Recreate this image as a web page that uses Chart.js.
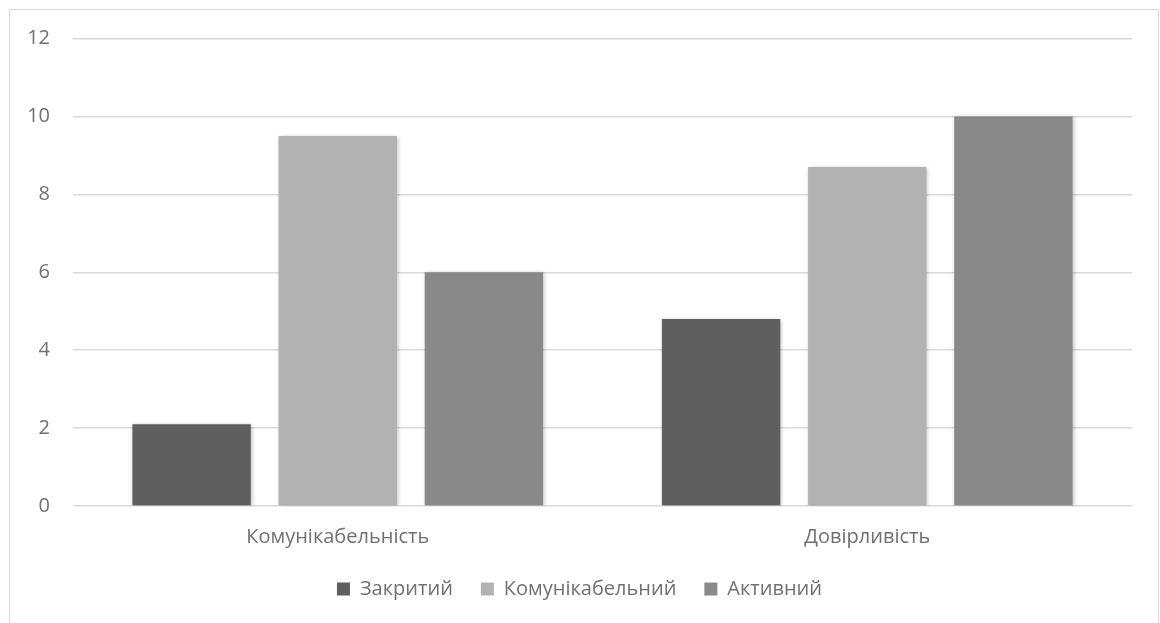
<!DOCTYPE html>
<html><head><meta charset="utf-8">
<script src="https://cdn.jsdelivr.net/npm/chart.js@4/dist/chart.umd.min.js"></script>
<style>
html,body{margin:0;padding:0;background:#fff;width:1160px;height:623px;overflow:hidden;}
#frame{position:absolute;left:9px;top:9px;width:1150px;height:640px;border:1.5px solid #d9d9d9;box-sizing:border-box;}
#wrap{position:absolute;left:0;top:0;width:1160px;height:623px;}
</style></head>
<body>
<div id="frame"></div>
<div id="wrap"><canvas id="c" width="1160" height="623"></canvas></div>
<script>
const categories = ["Комунікабельність", "Довірливість"];
const seriesNames = ["Закритий", "Комунікабельний", "Активний"];
const closedValues = [2.1, 4.8];
const communicativeValues = [9.5, 8.7];
const activeValues = [6.0, 10.0];
const yTicks = [0, 2, 4, 6, 8, 10, 12];
const colors = ["#5f5f5f", "#b2b2b2", "#898989"];

const shadowPlugin = {
  id: 'barShadow',
  beforeDatasetsDraw(chart) {
    const ctx = chart.ctx;
    ctx.save();
    ctx.shadowColor = 'rgba(0,0,0,0.25)';
    ctx.shadowBlur = 4;
    ctx.shadowOffsetX = 1;
    ctx.shadowOffsetY = 1;
  },
  afterDatasetsDraw(chart) { chart.ctx.restore(); }
};

const font = "'Open Sans', 'Noto Sans', sans-serif";
new Chart(document.getElementById('c'), {
  type: 'bar',
  data: {
    labels: categories,
    datasets: [
      { label: seriesNames[0], data: closedValues, backgroundColor: colors[0] },
      { label: seriesNames[1], data: communicativeValues, backgroundColor: colors[1] },
      { label: seriesNames[2], data: activeValues, backgroundColor: colors[2] }
    ]
  },
  options: {
    responsive: false,
    animation: false,
    layout: { padding: { left: 27, right: 28, top: 38.5, bottom: 14 } },
    datasets: { bar: { barPercentage: 0.81, categoryPercentage: 0.828 } },
    scales: {
      x: {
        grid: { display: false, drawTicks: false },
        border: { display: false },
        ticks: { color: '#707070', font: { family: font, size: 20 }, padding: 19 },
        afterFit(scale) { scale.height = 45; }
      },
      y: {
        min: 0, max: 12,
        afterBuildTicks(scale) { scale.ticks = yTicks.map(v => ({ value: v })); },
        grid: { color: '#d9d9d9', lineWidth: 1.5, drawTicks: false },
        border: { display: false },
        ticks: { color: '#707070', font: { family: font, size: 20 }, padding: 23 },
        afterFit(scale) { scale.width = 46; }
      }
    },
    plugins: {
      legend: {
        position: 'bottom',
        labels: {
          color: '#707070', font: { family: font, size: 20 },
          boxWidth: 13, boxHeight: 13, padding: 28
        }
      },
      tooltip: { enabled: false }
    }
  },
  plugins: [shadowPlugin]
});
</script>
</body></html>
